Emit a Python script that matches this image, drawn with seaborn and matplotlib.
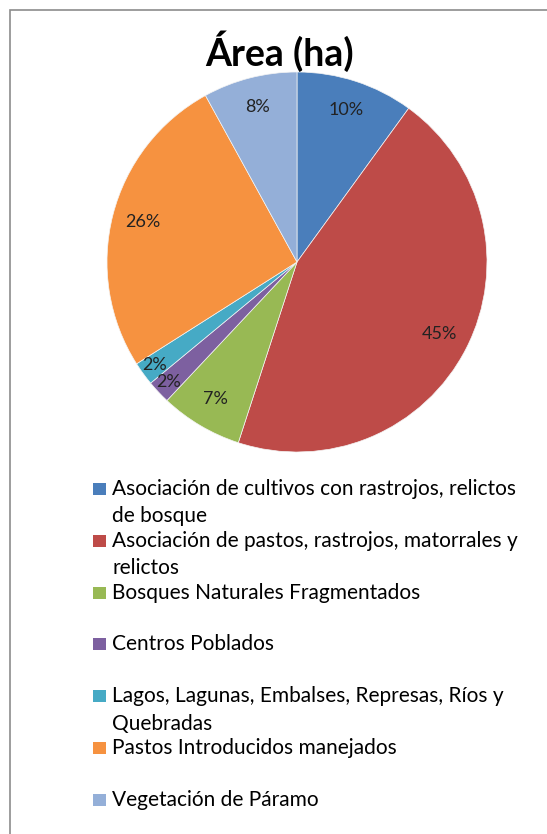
import matplotlib
matplotlib.use("Agg")
import matplotlib.pyplot as plt
import seaborn as sns
from matplotlib.patches import Rectangle

sns.set_theme(style="white")
plt.rcParams['font.family'] = ['Lato', 'DejaVu Sans']

categories = [
    "Asociación de cultivos con rastrojos, relictos\nde bosque",
    "Asociación de pastos, rastrojos, matorrales y\nrelictos",
    "Bosques Naturales Fragmentados",
    "Centros Poblados",
    "Lagos, Lagunas, Embalses, Represas, Ríos y\nQuebradas",
    "Pastos Introducidos manejados",
    "Vegetación de Páramo",
]
values = [10, 45, 7, 2, 2, 26, 8]
colors = ["#4A7EBB", "#BE4B48", "#98B954", "#7D60A0", "#46AAC5", "#F69240", "#94AFD8"]

W, H = 547, 834
fig = plt.figure(figsize=(W / 100, H / 100), dpi=100)
fig.patch.set_facecolor("white")

# outer chart border (extends beyond right/bottom like the reference crop)
fig.add_artist(Rectangle((10 / W, -0.05), 1.2, (H - 10) / H + 0.05,
                         transform=fig.transFigure, fill=False,
                         edgecolor="#8c8c8c", linewidth=1.2))

cx, cy, r = 297, 262, 190
ax = fig.add_axes([(cx - r) / W, (H - cy - r) / H, 2 * r / W, 2 * r / H])
wedges, texts, autotexts = ax.pie(
    values, colors=colors, startangle=90, counterclock=False,
    autopct=lambda p: f"{p:.0f}%", pctdistance=0.84,
    wedgeprops=dict(linewidth=0.5, edgecolor="#f4f4f4"),
    textprops=dict(fontsize=13, color="#222222"),
)
# push the small slice labels a bit further out (best-fit placement)
for i, t in enumerate(autotexts):
    x, y = t.get_position()
    if values[i] <= 2:
        t.set_position((x * 1.1, y * 1.1))
ax.set_xlim(-1, 1)
ax.set_ylim(-1, 1)
ax.set_aspect("equal")
ax.axis("off")

fig.text(280 / W, 1 - 66 / H, "Área (ha)", ha="center", va="baseline",
         fontsize=27, fontweight="bold", color="black")

# legend, Excel-style fixed slots
y0 = 495
slot = 51.8
line_gap = 27.5
for i, (lab, col) in enumerate(zip(categories, colors)):
    y = y0 + i * slot
    fig.add_artist(Rectangle((93 / W, 1 - y / H), 13 / W, 12 / H,
                             transform=fig.transFigure, facecolor=col,
                             edgecolor="none"))
    for j, line in enumerate(lab.split("\n")):
        fig.text(112 / W, 1 - (y + j * line_gap) / H, line, ha="left",
                 va="baseline", fontsize=15, color="black")

fig.savefig("out.png", dpi=100)
